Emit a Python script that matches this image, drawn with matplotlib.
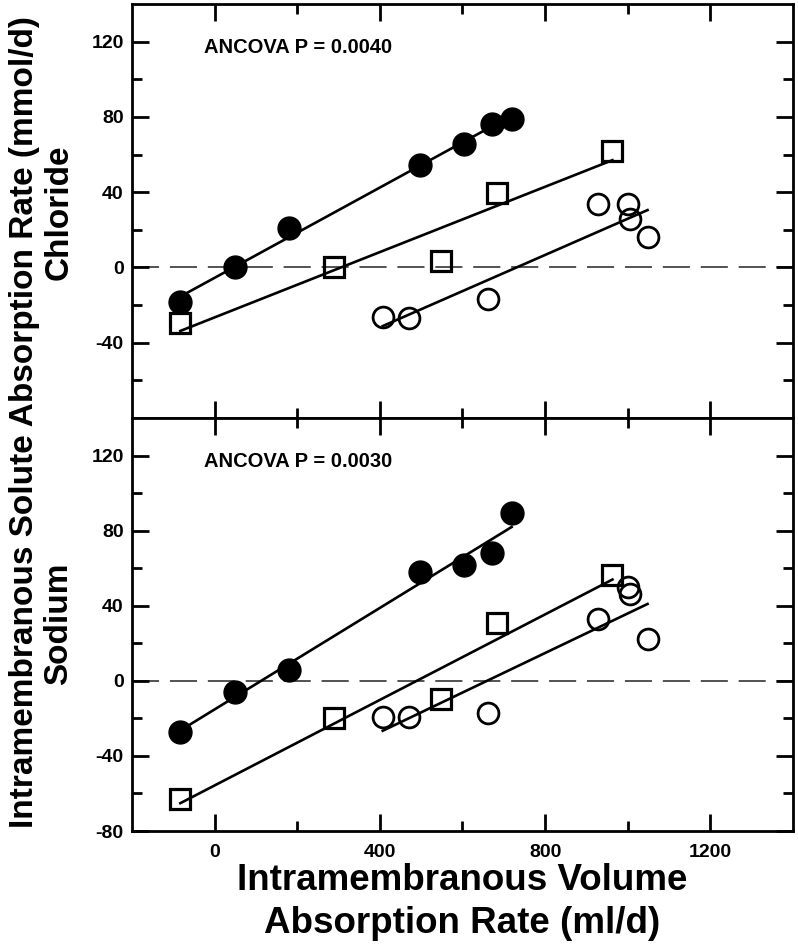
import matplotlib
matplotlib.use('Agg')
import matplotlib.pyplot as plt
import numpy as np

plt.rcParams['font.family'] = ['Liberation Sans', 'DejaVu Sans']
plt.rcParams['font.weight'] = 'bold'
plt.rcParams['axes.unicode_minus'] = False

##x values (ml/d), same in both panels
x_filled = [-83, 49, 181, 497, 603, 671, 719]
x_square = [-83, 288, 547, 683, 963]
x_open = [407, 470, 661, 927, 1001, 1006, 1048]

##Chloride (mmol/d)
cl_filled = [-18.5, 0.2, 21, 54.4, 65.6, 76, 79]
cl_square = [-29.7, 0.2, 3.2, 39.8, 61.9]
cl_open = [-26.5, -27, -17, 33.6, 33.6, 26, 16.2]

##Sodium (mmol/d)
na_filled = [-27, -5.7, 5.7, 57.8, 61.7, 67.9, 89.4]
na_square = [-63.1, -19.6, -9.8, 30.6, 56.4]
na_open = [-19.2, -19.2, -17.4, 32.9, 49.8, 46.2, 22.2]

panel_names = ['Chloride', 'Sodium']
p_texts = ['ANCOVA P = 0.0040', 'ANCOVA P = 0.0030']
x_major = [0, 400, 800, 1200]
x_minor = [200, 600, 1000]
y_major = [[-40, 0, 40, 80, 120], [-80, -40, 0, 40, 80, 120]]
y_minor = [-60, -20, 20, 60, 100]

fig = plt.figure(figsize=(7.98, 9.52), dpi=100)
ax1 = fig.add_axes([0.1654, 0.5609, 0.8283, 0.4349])
ax2 = fig.add_axes([0.1654, 0.1271, 0.8283, 0.4338], sharex=ax1)
axes = [ax1, ax2]

data = [(cl_filled, cl_square, cl_open), (na_filled, na_square, na_open)]

for i, ax in enumerate(axes):
    y_f, y_s, y_o = data[i]
    ax.axhline(0, color='#444444', lw=1.3, ls=(0, (15, 6)), zorder=1)
    ##regression lines
    for xs, ys in [(x_filled, y_f), (x_square, y_s), (x_open, y_o)]:
        xs = np.array(xs, dtype=float)
        k, b = np.polyfit(xs, ys, 1)
        xx = np.array([xs.min(), xs.max()])
        ax.plot(xx, k * xx + b, color='black', lw=1.9, zorder=2)
    ax.plot(x_filled, y_f, 'o', ms=16.5, color='black', zorder=3)
    ax.plot(x_square, y_s, 's', ms=15, mfc='none', mec='black', mew=2.3, zorder=3)
    ax.plot(x_open, y_o, 'o', ms=15, mfc='none', mec='black', mew=2.0, zorder=3)
    ax.text(-25, 117, p_texts[i], fontsize=14.5, fontweight='bold', va='center', ha='left')

    ax.set_xlim(-200, 1400)
    ax.set_ylim(-80, 140)
    ax.set_xticks(x_major)
    ax.set_xticks(x_minor, minor=True)
    ax.set_yticks(y_major[i])
    ax.set_yticks(y_minor, minor=True)
    ax.tick_params(which='both', direction='in', top=True, right=True, width=2)
    ax.tick_params(which='major', length=12)
    ax.tick_params(which='minor', length=7)
    ax.tick_params(axis='y', labelsize=14, pad=6)
    ax.tick_params(axis='x', labelsize=14, pad=9)
    for s in ax.spines.values():
        s.set_linewidth(2)
    for lab in ax.get_xticklabels() + ax.get_yticklabels():
        lab.set_fontweight('bold')

ax1.tick_params(labelbottom=False)

fig.text(25 / 798, 1 - 422 / 952, 'Intramembranous Solute Absorption Rate (mmol/d)',
         rotation=90, ha='center', va='center', fontsize=24, fontweight='bold')
fig.text(59 / 798, 1 - 212 / 952, panel_names[0], rotation=90, ha='center', va='center',
         fontsize=24, fontweight='bold')
fig.text(59 / 798, 1 - 624 / 952, panel_names[1], rotation=90, ha='center', va='center',
         fontsize=24, fontweight='bold')
fig.text(462 / 798, 1 - 902 / 952, 'Intramembranous Volume\nAbsorption Rate (ml/d)',
         ha='center', va='center', fontsize=26.5, fontweight='bold', linespacing=1.3)

fig.savefig('out.png', dpi=100)
